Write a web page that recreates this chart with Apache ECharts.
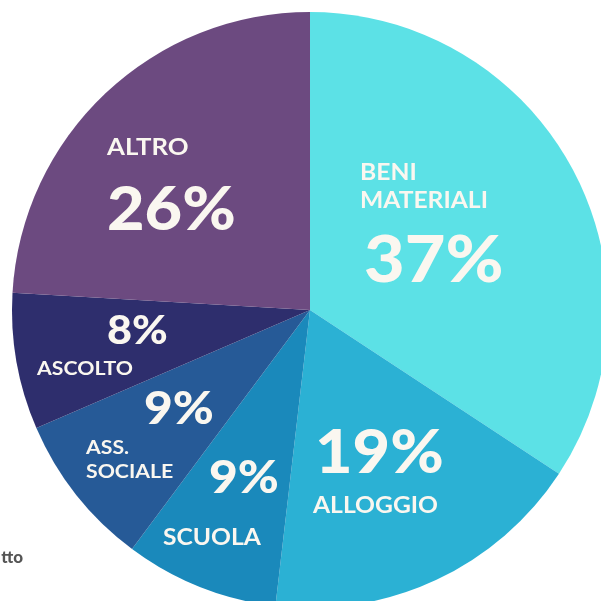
<!DOCTYPE html>
<html>
<head>
<meta charset="utf-8">
<script src="https://cdn.jsdelivr.net/npm/echarts@6/dist/echarts.min.js"></script>
<style>
  html, body { margin: 0; padding: 0; background: #ffffff; }
  #chart { width: 601px; height: 601px; }
</style>
</head>
<body>
<div id="chart"></div>
<script>
// categorie e percentuali (come scritte nel grafico)
var categories = ['BENI\nMATERIALI', 'ALLOGGIO', 'SCUOLA', 'ASS.\nSOCIALE', 'ASCOLTO', 'ALTRO'];
var values = [37, 19, 9, 9, 8, 26];
var colors = ['#5ce1e6', '#2bb1d4', '#1a89bb', '#265a97', '#2e2e6d', '#6c4a80'];

// posizione delle etichette (nome e percentuale) per ogni fetta
var nameLayout = [
  {x: 360, y: 187, size: 22},
  {x: 313, y: 506, size: 22},
  {x: 163, y: 538, size: 22},
  {x: 86, y: 460, size: 19},
  {x: 37, y: 369, size: 19},
  {x: 107, y: 148, size: 23}
];
var pctLayout = [
  {x: 364, y: 261, size: 65},
  {x: 315, y: 454, size: 60},
  {x: 209, y: 478, size: 46},
  {x: 144, y: 409, size: 46},
  {x: 107, y: 331, size: 40},
  {x: 107, y: 211, size: 60}
];

var chart = echarts.init(document.getElementById('chart'));

var pieData = [];
var graphics = [];
for (var i = 0; i < categories.length; i++) {
  pieData.push({name: categories[i], value: values[i], itemStyle: {color: colors[i]}});
  graphics.push({
    type: 'text', z: 10,
    x: nameLayout[i].x, y: nameLayout[i].y, scaleX: 1.12,
    style: {
      text: categories[i], fill: '#faf7f0', font: 'bold ' + nameLayout[i].size + 'px Lato',
      textAlign: 'left', textVerticalAlign: 'middle', lineHeight: nameLayout[i].size * 1.3
    }
  });
  graphics.push({
    type: 'text', z: 10,
    x: pctLayout[i].x, y: pctLayout[i].y, scaleX: 1.08,
    style: {
      text: values[i] + '%', fill: '#faf7f0', font: '900 ' + pctLayout[i].size + 'px Lato',
      textAlign: 'left', textVerticalAlign: 'middle'
    }
  });
}
// testo tagliato in basso a sinistra
graphics.push({
  type: 'text', z: 10, x: 23, y: 558,
  style: {text: 'tto', fill: '#555555', font: '900 17px Lato', textAlign: 'right', textVerticalAlign: 'middle'}
});

chart.setOption({
  animation: false,
  series: [{
    type: 'pie',
    center: [310, 310],
    radius: 298,
    startAngle: 90,
    clockwise: true,
    label: {show: false},
    labelLine: {show: false},
    itemStyle: {borderWidth: 0},
    emphasis: {disabled: true},
    data: pieData
  }],
  graphic: graphics
});
</script>
</body>
</html>
